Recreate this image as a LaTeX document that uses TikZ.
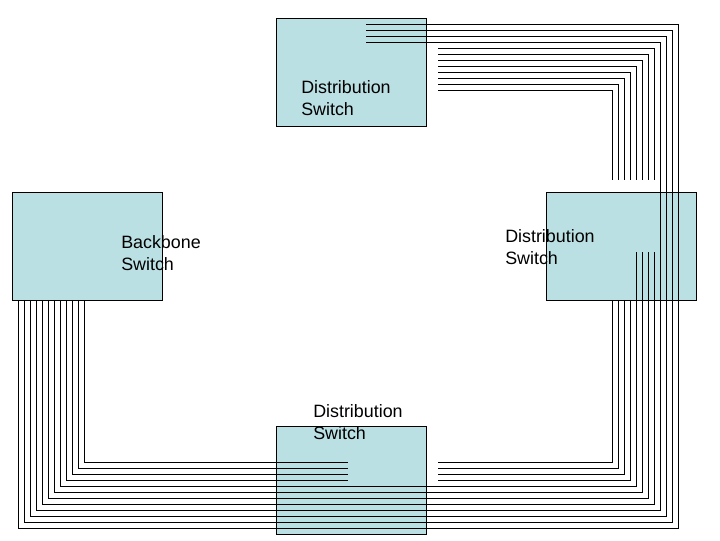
\documentclass[tikz,border=0pt]{standalone}
\usepackage{fontspec}
\setmainfont{Liberation Sans}
\definecolor{switchfill}{RGB}{187,224,227}

\begin{document}
\begin{tikzpicture}[
    x=0.75pt, y=-0.75pt,
    switchbox/.style={draw=black, fill=switchfill, line width=0.75pt,
        minimum width=112.5pt, minimum height=81pt, inner sep=0pt},
    cable/.style={line width=0.75pt},
    switchlabel/.style={align=left, anchor=base west, inner sep=0pt,
        font=\fontsize{13.4}{16.5}\selectfont}
]
    \useasboundingbox (0,0) rectangle (720,540);

    % Switches
    \node[switchbox] (top)    at (351,72)  {};   % top
    \node[switchbox] (right)  at (621,246) {};   % right
    \node[switchbox] (bb)     at (87,246)  {};   % backbone, left
    \node[switchbox] (bottom) at (351,480) {};   % bottom

    % Cables: top -> right -> bottom -> backbone
    \foreach \i in {0,...,3}
        \draw[cable] (366,24+6*\i) -- (678-6*\i,24+6*\i)
            -- (678-6*\i,528-6*\i) -- (18+6*\i,528-6*\i) -- (18+6*\i,300);

    % Cables: top -> right (open ends)
    \foreach \i in {0,...,7}
        \draw[cable] (438,48+6*\i) -- (654-6*\i,48+6*\i) -- (654-6*\i,180);

    % Cables: right -> backbone
    \foreach \i in {0,...,3}
        \draw[cable] (654-6*\i,252) -- (654-6*\i,504-6*\i)
            -- (42+6*\i,504-6*\i) -- (42+6*\i,300);

    % Cables: right -> bottom
    \foreach \i in {0,...,3}
        \draw[cable] (630-6*\i,300) -- (630-6*\i,480-6*\i) -- (438,480-6*\i);

    % Cables: backbone -> bottom
    \foreach \i in {0,...,3}
        \draw[cable] (66+6*\i,300) -- (66+6*\i,480-6*\i) -- (348,480-6*\i);

    % Labels (base = last line)
    \node[switchlabel] (toplabel)    at (301,115) {Distribution\\Switch};
    \node[switchlabel] (rightlabel)  at (505,264) {Distribution\\Switch};
    \node[switchlabel] (bblabel)     at (121,270) {Backbone\\Switch};
    \node[switchlabel] (bottomlabel) at (313,439) {Distribution\\Switch};
\end{tikzpicture}
\end{document}
